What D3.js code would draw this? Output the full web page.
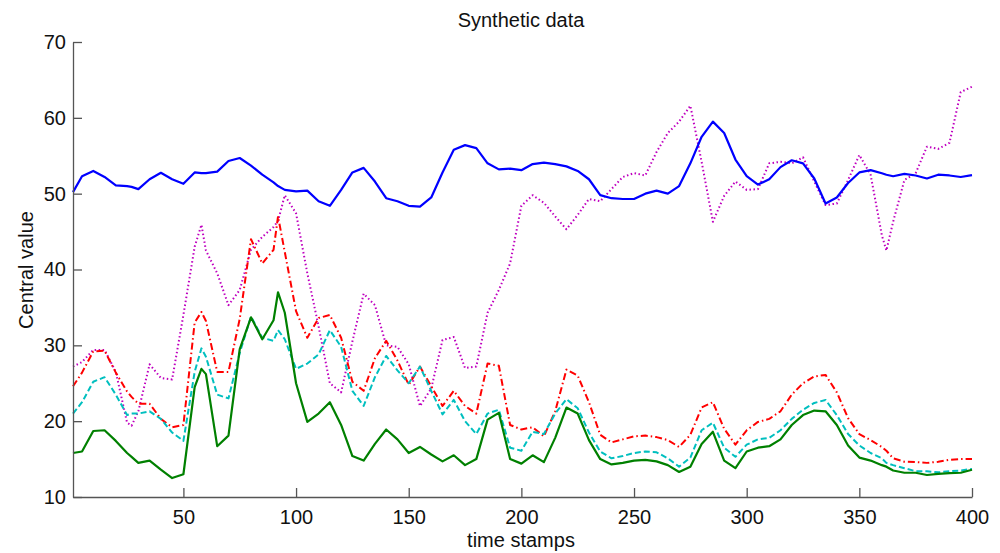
<!DOCTYPE html>
<html>
<head>
<meta charset="utf-8">
<script src="https://cdn.jsdelivr.net/npm/d3@7"></script>
<style>
  body { margin: 0; background: #fff; }
  svg { font-family: "Liberation Sans", Arial, sans-serif; }
</style>
</head>
<body>
<div id="chart-area"></div>
<script>
// time stamps, read roughly every 5 steps (plus a few peaks)
var timeStamps = [1, 5, 10, 15, 20, 25, 27, 30, 35, 40, 45,
  50, 55, 58, 60, 65, 70, 75, 80, 85, 90, 92, 95,
  100, 105, 110, 115, 120, 125, 130, 135, 140, 145,
  150, 155, 160, 165, 170, 175, 180, 185, 190, 195,
  200, 205, 210, 215, 220, 225, 230, 235, 240, 245,
  250, 255, 260, 265, 270, 275, 280, 285, 290, 295,
  300, 305, 310, 315, 320, 325, 330, 335, 340, 345,
  350, 355, 360, 362, 365, 370, 375, 380, 385, 390, 395, 400];

var blueVals = [50.2, 52.3, 53.0, 52.2, 51.1, 51.0, 50.9, 50.6, 51.9, 52.75, 51.9,
  51.3, 52.8, 52.7, 52.7, 52.9, 54.3, 54.7, 53.7, 52.5, 51.5, 51.0, 50.5,
  50.3, 50.4, 49.0, 48.4, 50.5, 52.8, 53.4, 51.6, 49.4, 49.0,
  48.4, 48.3, 49.5, 52.8, 55.8, 56.4, 56.0, 54.0, 53.2, 53.3,
  53.1, 53.9, 54.1, 53.9, 53.6, 53.0, 51.9, 49.8, 49.4, 49.3,
  49.3, 50.0, 50.4, 50.0, 51.0, 54.0, 57.5, 59.5, 58.0, 54.5,
  52.3, 51.2, 51.9, 53.5, 54.4, 54.0, 52.0, 48.7, 49.5, 51.4,
  52.8, 53.1, 52.7, 52.5, 52.3, 52.6, 52.4, 52.0, 52.5, 52.4, 52.2, 52.45];

var magentaVals = [27.2, 27.8, 29.4, 29.4, 26.5, 19.8, 19.4, 21.3, 27.5, 25.7, 25.5,
  34.0, 43.0, 45.9, 42.5, 39.5, 35.3, 37.3, 42.6, 44.3, 45.6, 46.4, 49.8,
  47.4, 39.5, 32.5, 25.0, 23.8, 30.5, 36.8, 35.3, 30.0, 29.8,
  27.5, 22.0, 24.3, 30.7, 31.1, 27.0, 27.2, 34.3, 37.3, 40.8,
  48.4, 49.8, 48.8, 47.0, 45.3, 47.2, 49.3, 49.0, 50.6, 52.2,
  52.7, 52.4, 55.5, 58.0, 59.5, 61.6, 54.2, 46.3, 49.7, 51.6,
  50.5, 50.6, 54.0, 54.2, 54.0, 54.8, 51.6, 48.5, 48.7, 51.8,
  55.1, 52.5, 44.5, 42.5, 46.3, 51.8, 52.7, 56.2, 55.9, 56.7, 63.4, 64.1];

var redVals = [24.6, 26.4, 29.2, 29.3, 26.4, 23.9, 23.2, 22.3, 22.3, 20.3, 19.2,
  19.5, 33.0, 34.4, 33.2, 26.5, 26.5, 33.5, 44.0, 40.8, 42.6, 47.0, 42.3,
  34.5, 31.0, 33.6, 34.0, 31.0, 25.2, 24.0, 28.3, 30.6, 28.0,
  24.8, 27.2, 24.6, 22.0, 24.0, 22.0, 21.0, 27.6, 27.3, 19.5,
  18.9, 19.2, 18.0, 21.3, 26.8, 26.0, 22.5, 18.2, 17.2, 17.6,
  18.0, 18.1, 17.9, 17.5, 16.6, 18.2, 21.8, 22.5, 19.0, 16.9,
  18.8, 19.9, 20.3, 21.3, 23.5, 25.0, 25.9, 26.1, 23.8, 20.4,
  18.3, 17.5, 16.6, 16.1, 15.1, 14.65, 14.6, 14.5, 14.65, 14.9, 15.0, 15.0];

var cyanVals = [21.0, 22.5, 25.2, 25.8, 23.5, 20.8, 21.0, 21.0, 21.3, 20.3, 18.5,
  17.4, 26.5, 29.6, 28.5, 23.5, 23.0, 29.0, 33.8, 31.0, 30.6, 32.0, 30.8,
  26.9, 27.6, 28.8, 32.0, 29.8, 24.0, 22.0, 25.8, 28.6, 26.7,
  25.0, 27.2, 24.0, 20.9, 22.8, 20.0, 18.3, 21.0, 21.5, 16.5,
  16.1, 18.6, 18.3, 21.0, 22.9, 21.7, 18.5, 16.0, 15.1, 15.4,
  15.8, 16.0, 15.9, 15.1, 14.0, 15.2, 18.8, 19.8, 16.5, 15.3,
  16.9, 17.6, 17.8, 18.8, 20.3, 21.5, 22.4, 22.8, 20.8, 18.3,
  16.8, 15.8, 15.1, 14.5, 14.2, 13.8, 13.4, 13.4, 13.25, 13.4, 13.5, 13.7];

var greenVals = [15.8, 16.0, 18.7, 18.8, 17.4, 15.8, 15.3, 14.5, 14.8, 13.6, 12.5,
  13.0, 24.5, 26.9, 26.2, 16.7, 18.1, 29.5, 33.7, 30.8, 33.3, 37.0, 34.3,
  25.0, 19.9, 21.0, 22.5, 19.5, 15.4, 14.8, 17.0, 18.9, 17.6,
  15.8, 16.6, 15.6, 14.7, 15.5, 14.2, 15.0, 20.2, 21.1, 15.0,
  14.4, 15.5, 14.6, 17.8, 21.8, 21.0, 17.5, 15.0, 14.3, 14.5,
  14.8, 14.9, 14.7, 14.2, 13.3, 14.0, 17.0, 18.6, 14.8, 13.8,
  16.0, 16.5, 16.7, 17.6, 19.5, 20.8, 21.4, 21.3, 19.5, 16.8,
  15.2, 14.8, 14.2, 14.0, 13.5, 13.2, 13.2, 12.9, 13.05, 13.15, 13.2, 13.6];

var xTicks = [50, 100, 150, 200, 250, 300, 350, 400];
var yTicks = [10, 20, 30, 40, 50, 60, 70];

var series = [
  { name: "magenta", values: magentaVals, color: "#bf00bf", width: 2, dash: "1.5,2.5" },
  { name: "red", values: redVals, color: "#ff0000", width: 2, dash: "7,3,1.5,3" },
  { name: "cyan", values: cyanVals, color: "#00bfbf", width: 2, dash: "6,3" },
  { name: "green", values: greenVals, color: "#008000", width: 2.2, dash: null },
  { name: "blue", values: blueVals, color: "#0000ff", width: 2.2, dash: null }
];

var margins = { left: 73, right: 28, top: 42, bottom: 56 };
var width = 1000 - margins.left - margins.right;
var height = 553 - margins.top - margins.bottom;

var svg = d3.select("#chart-area")
    .append("svg")
    .attr("width", 1000)
    .attr("height", 553);

var g = svg.append("g")
    .attr("transform", "translate(" + margins.left + "," + margins.top + ")");

var x = d3.scaleLinear().domain([1, 400]).range([0, width]);
var y = d3.scaleLinear().domain([10, 70]).range([height, 0]);

// lines
var line = d3.line()
    .x(function(d) { return x(d[0]); })
    .y(function(d) { return y(d[1]); });

series.forEach(function(s) {
  var pts = timeStamps.map(function(t, i) { return [t, s.values[i]]; });
  g.append("path")
    .datum(pts)
    .attr("fill", "none")
    .attr("stroke", s.color)
    .attr("stroke-width", s.width)
    .attr("stroke-linejoin", "round")
    .attr("stroke-dasharray", s.dash)
    .attr("d", line);
});

// axes, ticks pointing inward like matlab
var xAxis = d3.axisBottom(x).tickValues(xTicks).tickSizeInner(-9).tickSizeOuter(0).tickPadding(13);
var yAxis = d3.axisLeft(y).tickValues(yTicks).tickSizeInner(-9).tickSizeOuter(0).tickPadding(7);

var xg = g.append("g").attr("transform", "translate(0," + height + ")").call(xAxis);
var yg = g.append("g").call(yAxis);

[xg, yg].forEach(function(a) {
  a.selectAll("path, line").attr("stroke", "#555").attr("stroke-width", 1.3);
  a.selectAll("text")
    .attr("fill", "#111")
    .style("font-size", "20px")
    .style("font-family", "Liberation Sans, Arial, sans-serif");
});

// titles
svg.append("text")
  .attr("x", 521).attr("y", 26.5)
  .attr("text-anchor", "middle")
  .attr("fill", "#111")
  .style("font-size", "20px")
  .text("Synthetic data");

svg.append("text")
  .attr("x", 521).attr("y", 546.5)
  .attr("text-anchor", "middle")
  .attr("fill", "#111")
  .style("font-size", "20px")
  .text("time stamps");

svg.append("text")
  .attr("transform", "translate(32.5,270) rotate(-90)")
  .attr("text-anchor", "middle")
  .attr("fill", "#111")
  .style("font-size", "20px")
  .text("Central value");
</script>
</body>
</html>
